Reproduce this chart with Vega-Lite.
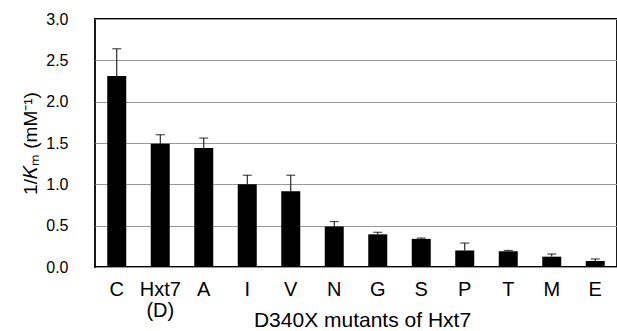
{
  "$schema": "https://vega.github.io/schema/vega-lite/v6.json",
  "autosize": "none",
  "padding": {"left": 95, "top": 19, "right": 0, "bottom": 64},
  "width": 522,
  "height": 248,
  "background": "white",
  "config": {
    "font": "Liberation Sans",
    "view": {"stroke": "black", "strokeWidth": 1.8}
  },
  "data": {
    "values": [
      {"mutant": "C", "value": 2.31, "upper": 2.64},
      {"mutant": "Hxt7", "value": 1.49, "upper": 1.60},
      {"mutant": "A", "value": 1.44, "upper": 1.56},
      {"mutant": "I", "value": 1.00, "upper": 1.11},
      {"mutant": "V", "value": 0.915, "upper": 1.11},
      {"mutant": "N", "value": 0.49, "upper": 0.55},
      {"mutant": "G", "value": 0.395, "upper": 0.42},
      {"mutant": "S", "value": 0.34, "upper": 0.35},
      {"mutant": "P", "value": 0.20, "upper": 0.29},
      {"mutant": "T", "value": 0.19, "upper": 0.20},
      {"mutant": "M", "value": 0.125, "upper": 0.157},
      {"mutant": "E", "value": 0.073, "upper": 0.097}
    ]
  },
  "encoding": {
    "x": {
      "field": "mutant",
      "type": "nominal",
      "sort": null,
      "scale": {"paddingInner": 0, "paddingOuter": 0},
      "axis": {
        "title": "D340X mutants of Hxt7",
        "titleFontSize": 21,
        "titleFontWeight": "normal",
        "titleColor": "black",
        "titleX": 267,
        "titleY": 59,
        "titleAlign": "center",
        "titleBaseline": "alphabetic",
        "labelAngle": 0,
        "labelFontSize": 20,
        "labelColor": "black",
        "labelPadding": 12,
        "labelLineHeight": 21,
        "labelExpr": "datum.label == 'Hxt7' ? ['Hxt7', '(D)'] : datum.label",
        "ticks": false,
        "domain": false
      }
    }
  },
  "layer": [
    {
      "mark": {"type": "bar", "color": "black", "size": 19},
      "encoding": {
        "y": {
          "field": "value",
          "type": "quantitative",
          "scale": {"domain": [0, 3]},
          "axis": {
            "title": "1/𝐾ₘ (mM⁻¹)",
            "titleFontSize": 19,
            "titleFontWeight": "normal",
            "titleColor": "black",
            "titlePadding": 5,
            "values": [0, 0.5, 1, 1.5, 2, 2.5, 3],
            "format": ".1f",
            "labelFontSize": 16,
            "labelColor": "black",
            "labelPadding": 27,
            "ticks": false,
            "domain": false,
            "grid": true,
            "gridColor": "#999999",
            "gridWidth": 1
          }
        }
      }
    },
    {
      "mark": {"type": "rule", "color": "black", "strokeWidth": 1},
      "encoding": {
        "y": {"field": "value", "type": "quantitative"},
        "y2": {"field": "upper"}
      }
    },
    {
      "mark": {"type": "tick", "color": "black", "size": 9, "thickness": 1.2},
      "encoding": {
        "y": {"field": "upper", "type": "quantitative"}
      }
    }
  ]
}
